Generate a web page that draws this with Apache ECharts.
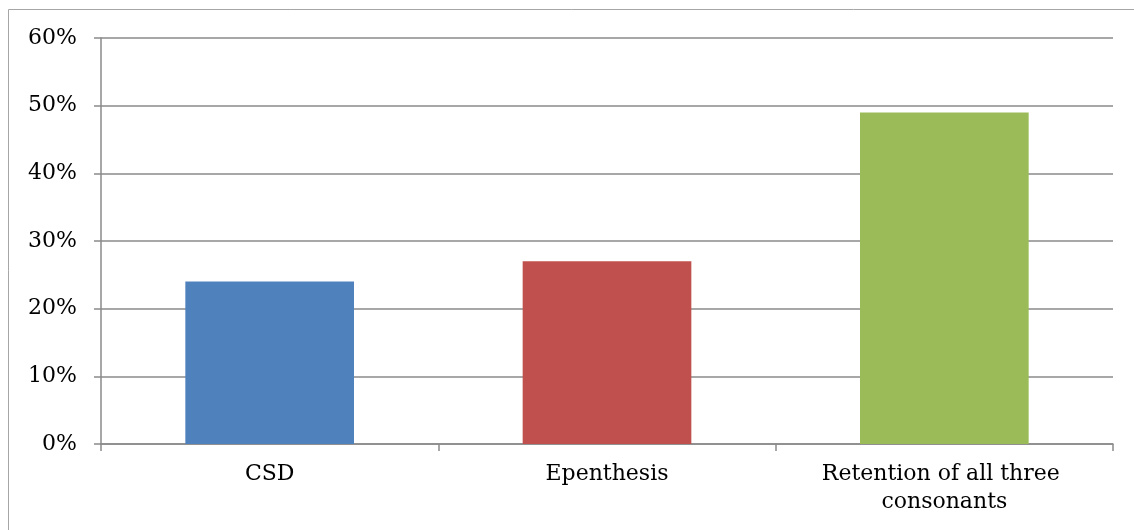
<!DOCTYPE html>
<html>
<head>
<meta charset="utf-8">
<script src="https://cdn.jsdelivr.net/npm/echarts@6/dist/echarts.min.js"></script>
<style>
  html, body { margin: 0; padding: 0; background: #fff; }
  #chart { width: 1134px; height: 530px; }
</style>
</head>
<body>
<div id="chart"></div>
<script>
const categories = ['CSD', 'Epenthesis', 'Retention of all three consonants'];
const shares = [24, 27, 49];
const barColors = ['#4F81BD', '#C0504D', '#9BBB59'];
const yTicks = [0, 10, 20, 30, 40, 50, 60];

const serif = '"DejaVu Serif", "Liberation Serif", serif';
const axisGray = '#8a8a8a';

const chart = echarts.init(document.getElementById('chart'), null, { renderer: 'canvas' });
chart.setOption({
  animation: false,
  backgroundColor: '#ffffff',
  graphic: [{
    type: 'rect',
    shape: { x: 8.5, y: 9.5, width: 1200, height: 600 },
    style: { fill: 'none', stroke: '#a6a6a6', lineWidth: 1 },
    silent: true
  }],
  grid: { left: 101, right: 21, top: 38, bottom: 86, containLabel: false },
  xAxis: {
    type: 'category',
    data: categories,
    axisLine: { show: true, lineStyle: { color: axisGray, width: 1.5 } },
    axisTick: { show: true, interval: 0, length: 7, lineStyle: { color: axisGray, width: 1.5 } },
    axisLabel: {
      interval: 0,
      color: '#000', fontFamily: serif, fontSize: 22, margin: 16,
      width: 300, overflow: 'break', lineHeight: 28
    }
  },
  yAxis: {
    type: 'value',
    min: yTicks[0], max: yTicks[yTicks.length - 1], interval: 10,
    axisLine: { show: true, lineStyle: { color: axisGray, width: 1.5 } },
    axisTick: { show: true, length: 7, lineStyle: { color: axisGray, width: 1.5 } },
    splitLine: { show: true, lineStyle: { color: axisGray, width: 1.5 } },
    axisLabel: {
      color: '#000', fontFamily: serif, fontSize: 22, margin: 24,
      formatter: v => v + '%'
    }
  },
  series: [{
    type: 'bar',
    barWidth: '50%',
    data: shares.map((v, i) => ({ value: v, itemStyle: { color: barColors[i] } }))
  }]
});
</script>
</body>
</html>
